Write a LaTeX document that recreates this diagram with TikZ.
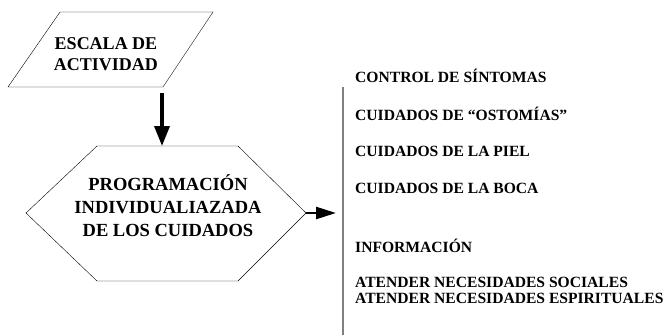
\documentclass[tikz,border=0pt]{standalone}
\usepackage{fontspec}
\setmainfont{Liberation Serif}
\usetikzlibrary{arrows.meta}
\begin{document}
\begin{tikzpicture}[x=1pt,y=-1pt,
  boxtext/.style={font=\bfseries\fontsize{18}{22}\selectfont,align=center,inner sep=0pt},
  item/.style={font=\bfseries\fontsize{15.6}{16}\selectfont,anchor=base west,inner sep=0pt},
  bigarrow/.style={-{Triangle[length=20pt,width=15pt]},line width=3.5pt},
  sidearrow/.style={-{Triangle[length=20pt,width=12pt]},line width=2.5pt}]
\useasboundingbox (0,0) rectangle (666,335);
% escala de actividad
\draw (8,87)--(60,12)--(213,12)--(163,87)--cycle;
\node[boxtext] (escala) at (106,54) {ESCALA DE\\[-1pt]ACTIVIDAD};
\coordinate (escalab) at (162,93);
% programacion
\draw (26,213)--(97,146)--(238,146)--(306,213)--(238,281)--(97,281)--cycle;
\coordinate (progt) at (162,146);
\coordinate (proge) at (306,213);
\node[boxtext,font=\bfseries\fontsize{18.5}{22}\selectfont] (prog) at (168,206) {PROGRAMACIÓN\\[1pt]INDIVIDUALIAZADA\\[1pt]DE LOS CUIDADOS};
\draw[bigarrow] (escalab)--(progt);
\coordinate (lista) at (336,213);
\draw[sidearrow] (proge)--(lista);
% lista
\draw[gray,line width=1.5pt] (343,87)--(343,335);
\node[item] (sintomas) at (355,82) {CONTROL DE SÍNTOMAS};
\node[item] (ostomias) at (355,120) {CUIDADOS DE “OSTOMÍAS”};
\node[item] (piel) at (355,156) {CUIDADOS DE LA PIEL};
\node[item] (boca) at (355,193) {CUIDADOS DE LA BOCA};
\node[item] (info) at (355,252) {INFORMACIÓN};
\node[item] (sociales) at (355,287) {ATENDER NECESIDADES SOCIALES};
\node[item] (espirit) at (355,303) {ATENDER NECESIDADES ESPIRITUALES};
\end{tikzpicture}
\end{document}
